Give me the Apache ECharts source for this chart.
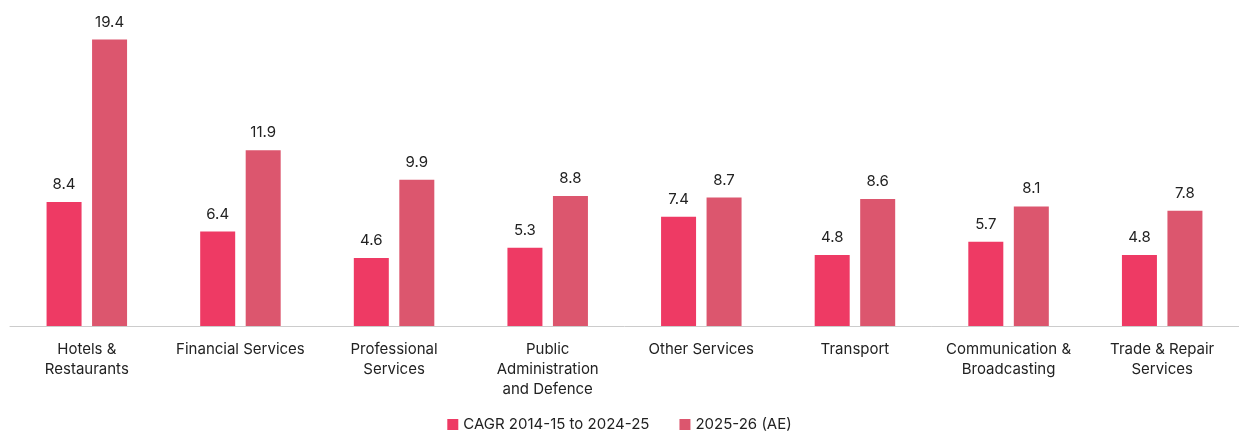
<!DOCTYPE html>
<html><head><meta charset="utf-8">
<script src="https://cdn.jsdelivr.net/npm/echarts@6/dist/echarts.min.js"></script>
<style>html,body{margin:0;background:#fff}#c{width:1239px;height:439px}</style>
</head><body><div id="c"></div>
<script>
var categories = ['Hotels &\nRestaurants', 'Financial Services', 'Professional\nServices', 'Public\nAdministration\nand Defence', 'Other Services', 'Transport', 'Communication &\nBroadcasting', 'Trade & Repair\nServices'];
var cagr = [8.4, 6.4, 4.6, 5.3, 7.4, 4.8, 5.7, 4.8];
var ae = [19.4, 11.9, 9.9, 8.8, 8.7, 8.6, 8.1, 7.8];
var font = 'Inter, "Noto Sans", sans-serif';
var chart = echarts.init(document.getElementById('c'));
chart.setOption({
  animation: false,
  textStyle: {fontFamily: font},
  grid: {left: 10, right: 0, top: 10, bottom: 113},
  legend: {
    bottom: 2, left: 'center', itemWidth: 11, itemHeight: 11, itemGap: 30, icon: 'rect',
    textStyle: {fontSize: 15, color: '#222', fontFamily: font},
    data: ['CAGR 2014-15 to 2024-25', '2025-26 (AE)']
  },
  xAxis: {
    type: 'category', data: categories,
    axisLine: {lineStyle: {color: '#ccc'}}, axisTick: {show: false},
    axisLabel: {color: '#222', fontSize: 15, lineHeight: 20, margin: 13, interval: 0}
  },
  yAxis: {type: 'value', min: 0, max: 21.4, show: false, splitLine: {show: false}},
  series: [
    {name: 'CAGR 2014-15 to 2024-25', type: 'bar', data: cagr, barWidth: 35, barGap: '30%',
     itemStyle: {color: '#EE3A64'},
     label: {show: true, position: 'top', distance: 10, color: '#222', fontSize: 15, formatter: function(p){return p.value.toFixed(1);}}},
    {name: '2025-26 (AE)', type: 'bar', data: ae, barWidth: 35,
     itemStyle: {color: '#DC566E'},
     label: {show: true, position: 'top', distance: 10, color: '#222', fontSize: 15, formatter: function(p){return p.value.toFixed(1);}}}
  ]
});
</script></body></html>
